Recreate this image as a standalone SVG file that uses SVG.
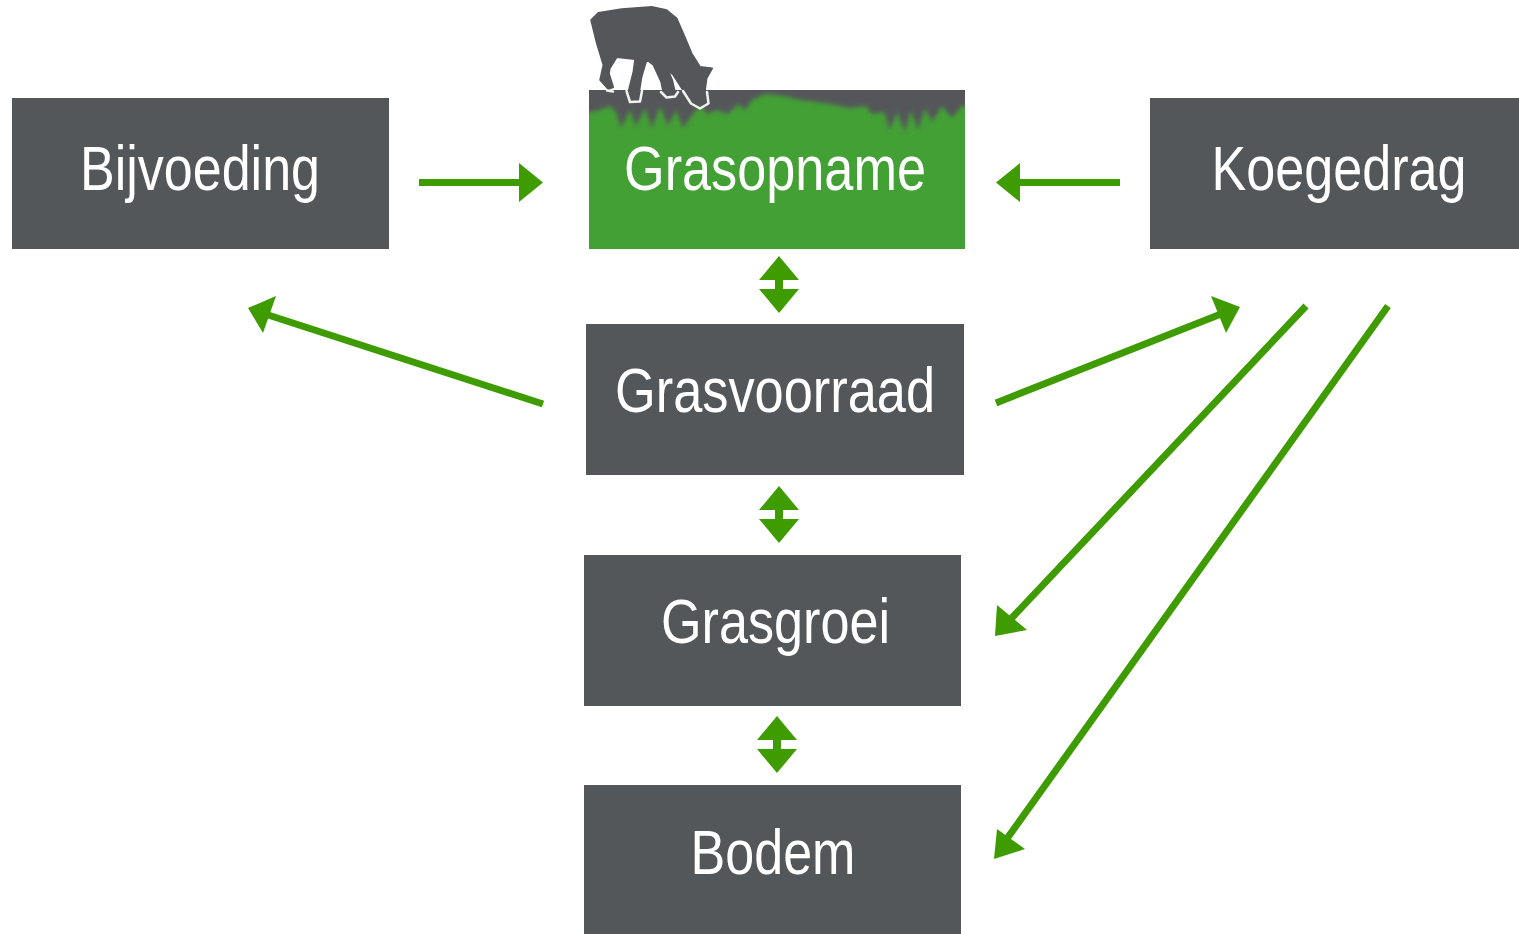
<svg xmlns="http://www.w3.org/2000/svg" width="1519" height="934" viewBox="0 0 1519 934">
<style>
.box{fill:#54575a}
.t{fill:#fff;font-family:"Liberation Sans",Arial,sans-serif;font-size:63px;text-anchor:middle}
.a{stroke:#3f9c00;stroke-width:7;fill:none}
.h{fill:#3f9c00}
</style>
<defs>
<filter id="b" x="-5%" y="-30%" width="110%" height="160%"><feGaussianBlur stdDeviation="2"/></filter>
<filter id="s" x="-5%" y="-5%" width="110%" height="110%"><feGaussianBlur stdDeviation="0.6"/></filter>
<clipPath id="c"><rect x="589" y="90" width="376" height="60"/></clipPath>
</defs>
<g id="bijvoeding"><rect class="box" x="12" y="98" width="377" height="151"/><text class="t" x="200" y="190" textLength="240" lengthAdjust="spacingAndGlyphs">Bijvoeding</text></g>
<g id="grasopname">
<rect x="589" y="90" width="376" height="159" fill="#43a035"/>
<g clip-path="url(#c)"><path filter="url(#b)" fill="#54575a" d="M580 80H975V110L963 105L952 118L942 106L932 122L925 108L918 130L911 110L905 132L897 112L890 130L884 112L872 114L866 106L850 108L830 104L800 100L784 96L765 94L752 100L745 110L738 104L728 114L716 110L708 114L700 106L690 118L683 128L676 110L668 126L660 106L652 128L645 108L636 126L630 110L621 128L616 112L610 106L600 110L580 114Z"/></g>
<path fill="#54575a" stroke="#54575a" stroke-width="1.500" stroke-linejoin="round" filter="url(#s)" d="M591 20L598.300 12.700L621.700 9L651.700 6.700L666.700 10L676.700 18.300L683.300 33.300L691.700 53.300L700 66.700L712.300 68.300L706.700 78.300L704.300 96.700L703.300 101.700L696.700 105L690 100L681.700 88.300L673.300 75L668.300 70.700L672.300 80L675 91.700L670 95L663.300 93.300L661 81.700L653.300 65L646.700 60L641.700 76.700L638.300 98.300L631.700 99.300L628.300 91.700L633.300 71.700L635 59.300L616.700 57.300L610 68.300L609 73.300L613.300 87.300L608.300 89.300L600 80L603.300 65L596.700 43.300Z"/>
<path fill="none" stroke="#f0f4ec" stroke-width="2.500" stroke-linecap="round" stroke-linejoin="round" filter="url(#s)" d="M607 90.500L613 91.500M626.500 91L630 102L640 101.500L642 91M661 92L666.500 97.500L675 96.500L678 92M683 91L691 103.500L700 108.500L708.500 103.500L707 92"/>
<text class="t" x="775" y="190" textLength="302" lengthAdjust="spacingAndGlyphs">Grasopname</text></g>
<g id="koegedrag"><rect class="box" x="1150" y="98" width="369" height="151"/><text class="t" x="1339" y="190" textLength="255" lengthAdjust="spacingAndGlyphs">Koegedrag</text></g>
<g id="grasvoorraad"><rect class="box" x="586" y="324" width="378" height="151"/><text class="t" x="775" y="412" textLength="320" lengthAdjust="spacingAndGlyphs">Grasvoorraad</text></g>
<g id="grasgroei"><rect class="box" x="584" y="555" width="377" height="151"/><text class="t" x="775.500" y="643" textLength="229" lengthAdjust="spacingAndGlyphs">Grasgroei</text></g>
<g id="bodem"><rect class="box" x="584" y="785" width="377" height="149"/><text class="t" x="773" y="874" textLength="165" lengthAdjust="spacingAndGlyphs">Bodem</text></g>
<g id="connectors">
<path class="a" d="M419 182.500H525M1120 182.500H1014M543 404L262 313M996 403L1226 312M1306 306L1008 622M1388 306L1006 840"/>
<path class="h" d="M543 182.500L519 163V202ZM996 182.500L1020 163V202ZM248 308L276 296L263 333ZM1240 307L1211 296L1226 333ZM995 636L997 605L1027 630ZM994 859L997 829L1025 849Z"/>
<path class="h" d="M779 256L799 280H783V289H799L779 313L759 289H775V280H759Z"/>
<path class="h" d="M779 486L799 510H783V519H799L779 543L759 519H775V510H759Z"/>
<path class="h" d="M777 716L797 740H781V749H797L777 773L757 749H773V740H757Z"/>
</g>
</svg>
